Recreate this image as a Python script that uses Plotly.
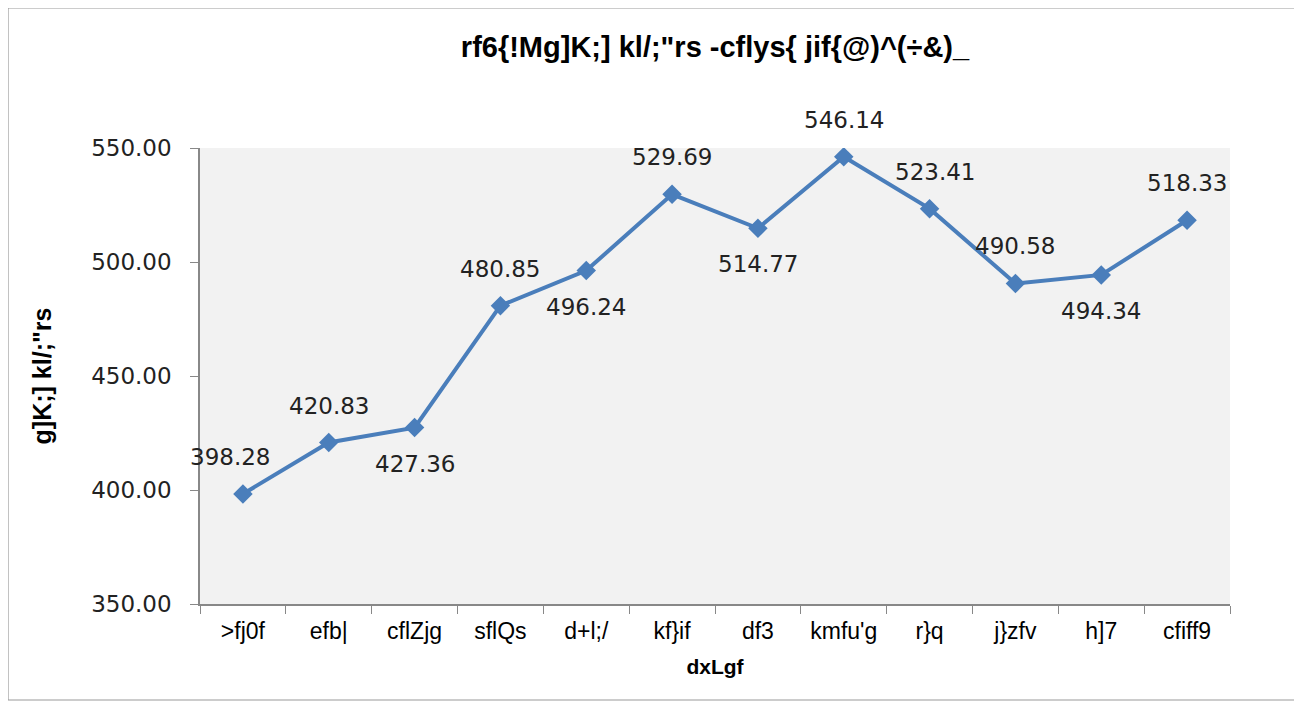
import plotly.graph_objects as go

months = [">fj0f", "efb|", "cflZjg", "sflQs", "d+l;/", "kf}if",
          "df3", "kmfu'g", "r}q", "j}zfv", "h]7", "cfiff9"]
index_values = [398.28, 420.83, 427.36, 480.85, 496.24, 529.69,
                514.77, 546.14, 523.41, 490.58, 494.34, 518.33]
label_side = ["up", "up", "down", "up", "down", "up",
              "down", "up", "up", "up", "down", "up"]
y_ticks = [350, 400, 450, 500, 550]

title_text = "rf6{!Mg]K;] kl/;\"rs -cflys{ jif{@)^(÷&)_"
y_title = "g]K;] kl/;\"rs"
x_title = "dxLgf"

narrow = "Liberation Sans, Arial, sans-serif"
wide = "DejaVu Sans, Verdana, sans-serif"

fig = go.Figure()
fig.add_trace(go.Scatter(
    x=months, y=index_values, mode="lines+markers",
    line=dict(color="#4a7ebb", width=4),
    marker=dict(symbol="diamond", size=15, color="#4a7ebb"),
    hoverinfo="x+y", showlegend=False,
))

annotations = []
for i, (m, v, s) in enumerate(zip(months, index_values, label_side)):
    annotations.append(dict(
        x=m, y=v, xref="x", yref="y", text=f"{v:.2f}", showarrow=False,
        yshift=37 if s == "up" else -36,
        xshift=-13 if i == 0 else (5 if i == 8 else 0),
        font=dict(family=wide, size=23, color="#222222"),
    ))

OFF = 8  # page body margin
W, H = 1302, 709
L, R, T, B = 200 - OFF, 80, 148 - OFF, 113
pw, ph = W - L - R, H - T - B

fig.update_layout(
    width=W, height=H,
    margin=dict(l=L, r=R, t=T, b=B),
    paper_bgcolor="white", plot_bgcolor="#f2f2f2",
    title=dict(text=title_text, x=(L + pw / 2) / W, xanchor="center",
               y=1 - (47 - OFF) / H, yanchor="middle",
               font=dict(family=narrow, size=29, color="black", weight="bold")),
    xaxis=dict(
        type="category", tickson="boundaries", ticks="outside", ticklen=8,
        tickcolor="#888888", showline=True, linecolor="#888888", linewidth=1.5,
        showgrid=False, range=[-0.5, len(months) - 0.5],
        ticklabelstandoff=6,
        tickfont=dict(family=narrow, size=23, color="black"),
        title=dict(text=x_title, standoff=16,
                   font=dict(family=narrow, size=21, color="black", weight="bold")),
    ),
    yaxis=dict(
        range=[350, 550], tickvals=y_ticks,
        ticktext=[f"{t:.2f}" for t in y_ticks],
        ticks="outside", ticklen=8, tickcolor="#888888",
        showline=True, linecolor="#888888", linewidth=1.5,
        showgrid=False, zeroline=False, ticklabelstandoff=14,
        tickfont=dict(family=wide, size=23, color="#222222"),
        title=dict(text=y_title, standoff=32,
                   font=dict(family=narrow, size=25, color="black", weight="bold")),
    ),
    annotations=annotations,
    shapes=[dict(type="rect", xref="paper", yref="paper",
                 x0=(8 - OFF - L) / pw, x1=(1296 - OFF - L) / pw,
                 y0=(T + ph - (700 - OFF)) / ph, y1=(T + ph - (8 - OFF)) / ph,
                 line=dict(color="#9a9a9a", width=1.2), fillcolor="rgba(0,0,0,0)",
                 layer="below")],
)

fig.write_html("out.html")
